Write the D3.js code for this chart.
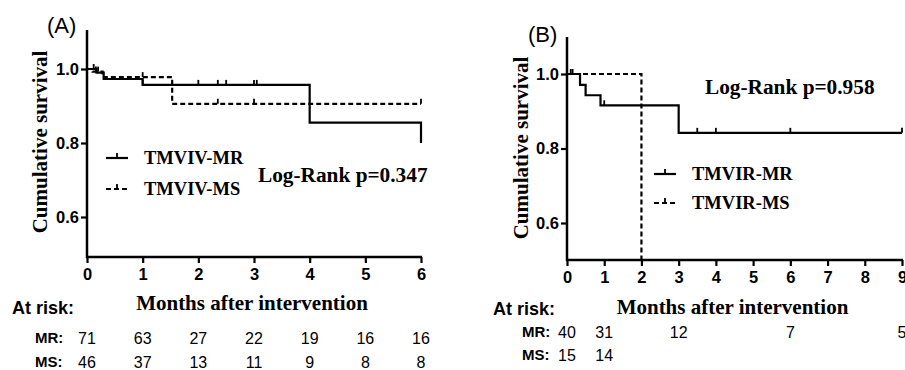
<!DOCTYPE html>
<html>
<head>
<meta charset="utf-8">
<script src="https://cdn.jsdelivr.net/npm/d3@7"></script>
<style>
  body { margin: 0; background: #fff; }
  svg text { fill: #000; }
</style>
</head>
<body>
<svg id="chart" width="905" height="370"></svg>
<script>
// ---- data ----
// panel A
const monthsA = [0, 1, 2, 3, 4, 5, 6];
const mrTimeA = [0, 0.17, 0.3, 1.0, 4.0, 6.0];
const mrSurvA = [1.0, 0.99, 0.973, 0.957, 0.855, 0.80];
const mrCensorA = [0.12, 1.0, 2.0, 2.35, 2.5, 3.0, 3.05];
const msTimeA = [0, 0.1, 0.28, 1.53, 6.0];
const msSurvA = [1.0, 0.993, 0.978, 0.906, 0.906];
const msCensorA = [0.16, 0.2, 1.0, 2.35, 3.0, 6.0];
const riskMonthsA = [0, 1, 2, 3, 4, 5, 6];
const riskMRA = [71, 63, 27, 22, 19, 16, 16];
const riskMSA = [46, 37, 13, 11, 9, 8, 8];

// panel B
const monthsB = [0, 1, 2, 3, 4, 5, 6, 7, 8, 9];
const mrTimeB = [0, 0.35, 0.5, 0.9, 3.0, 9.0];
const mrSurvB = [1.0, 0.971, 0.943, 0.916, 0.842, 0.842];
const mrCensorB = [0.1, 1.0, 3.5, 4.0, 6.0, 9.0];
const msTimeB = [0, 2.0];
const msSurvB = [1.0, 0.0];
const msCensorB = [0.15];
const riskMonthsMRB = [0, 1, 3, 6, 9];
const riskMRB = [40, 31, 12, 7, 5];
const riskMonthsMSB = [0, 1];
const riskMSB = [15, 14];

const yTicks = [0.6, 0.8, 1.0];

const svg = d3.select("#chart");
const serif = "'Liberation Serif', 'Times New Roman', serif";
const sans = "'Liberation Sans', Arial, sans-serif";

function drawPanel(p) {
  const x = d3.scaleLinear().domain([0, p.months[p.months.length - 1]]).range([p.left, p.right]);
  const y = d3.scaleLinear().domain([1.0, 0.6]).range([p.y1, p.y06]);
  const bottom = p.bottom, top = p.top;

  const g = svg.append("g");

  // clip so curves never go below the x axis
  const clipId = "clip" + p.id;
  svg.append("defs").append("clipPath").attr("id", clipId)
    .append("rect").attr("x", p.left - 5).attr("y", top)
    .attr("width", p.right - p.left + 10).attr("height", bottom - top);

  // y axis
  const yAxis = g.append("g").attr("transform", "translate(" + p.left + ",0)")
    .call(d3.axisLeft(y).tickValues(yTicks).tickFormat(d3.format(".1f")).tickSize(6).tickSizeOuter(0));
  yAxis.select(".domain").remove();
  yAxis.selectAll("line").attr("stroke", "#000").attr("stroke-width", 2.2);
  yAxis.selectAll("text").attr("font-family", sans).attr("font-weight", "bold")
    .attr("font-size", 16.5).attr("x", -8);
  g.append("line").attr("x1", p.left).attr("x2", p.left).attr("y1", top).attr("y2", bottom + 1)
    .attr("stroke", "#000").attr("stroke-width", 2.5);

  // x axis
  const xAxis = g.append("g").attr("transform", "translate(0," + bottom + ")")
    .call(d3.axisBottom(x).tickValues(p.months).tickFormat(d3.format("d")).tickSize(6).tickSizeOuter(0));
  xAxis.select(".domain").remove();
  xAxis.selectAll("line").attr("stroke", "#000").attr("stroke-width", 2.2);
  xAxis.selectAll("text").attr("font-family", sans).attr("font-weight", "bold")
    .attr("font-size", 16.5).attr("y", 11);
  g.append("line").attr("x1", p.left - 1).attr("x2", p.right + 1).attr("y1", bottom).attr("y2", bottom)
    .attr("stroke", "#000").attr("stroke-width", 2.5);

  // survival curves
  const line = d3.line().x(d => x(d[0])).y(d => y(d[1])).curve(d3.curveStepAfter);
  const curves = g.append("g").attr("clip-path", "url(#" + clipId + ")");
  function stepAt(times, surv, t) {
    let s = surv[0];
    for (let i = 0; i < times.length; i++) if (times[i] <= t) s = surv[i];
    return s;
  }
  [[p.mrTime, p.mrSurv, p.mrCensor, null], [p.msTime, p.msSurv, p.msCensor, "5,3"]].forEach(c => {
    const pts = c[0].map((t, i) => [t, c[1][i]]);
    curves.append("path").datum(pts).attr("d", line)
      .attr("fill", "none").attr("stroke", "#000").attr("stroke-width", 2.2)
      .attr("stroke-dasharray", c[3]);
    curves.selectAll(null).data(c[2]).enter().append("line")
      .attr("x1", d => x(d)).attr("x2", d => x(d))
      .attr("y1", d => y(stepAt(c[0], c[1], d)))
      .attr("y2", d => y(stepAt(c[0], c[1], d)) - 5)
      .attr("stroke", "#000").attr("stroke-width", 1.8);
  });

  // legend
  p.legend.forEach((name, i) => {
    const ly = p.legY + i * p.legGap;
    g.append("line").attr("x1", p.legX).attr("x2", p.legX + 22).attr("y1", ly).attr("y2", ly)
      .attr("stroke", "#000").attr("stroke-width", 2.2).attr("stroke-dasharray", i ? "5,3" : null);
    g.append("line").attr("x1", p.legX + 11).attr("x2", p.legX + 11).attr("y1", ly).attr("y2", ly - 5)
      .attr("stroke", "#000").attr("stroke-width", 1.8);
    g.append("text").attr("x", p.legX + 38).attr("y", ly).attr("dy", "0.35em")
      .attr("font-family", serif).attr("font-weight", "bold").attr("font-size", 18.5).text(name);
  });

  // log-rank
  g.append("text").attr("x", p.lrX).attr("y", p.lrY).attr("dy", "0.35em")
    .attr("font-family", serif).attr("font-weight", "bold").attr("font-size", 21.3).text(p.logRank);

  // panel letter
  g.append("text").attr("x", p.letterX).attr("y", p.letterY)
    .attr("font-family", sans).attr("font-size", 22).text(p.letter);

  // axis titles
  g.append("text").attr("transform", "translate(" + p.yLabX + "," + p.yLabY + ") rotate(-90)")
    .attr("text-anchor", "middle").attr("dy", "0.35em")
    .attr("font-family", serif).attr("font-weight", "bold").attr("font-size", 21)
    .text("Cumulative survival");
  g.append("text").attr("x", (p.left + p.right) / 2 - 2).attr("y", p.xLabY).attr("dy", "0.35em")
    .attr("text-anchor", "middle")
    .attr("font-family", serif).attr("font-weight", "bold").attr("font-size", 21)
    .text("Months after intervention");

  // at-risk table
  g.append("text").attr("x", p.atRiskX).attr("y", p.atRiskY).attr("dy", "0.35em")
    .attr("font-family", sans).attr("font-weight", "bold").attr("font-size", 18).text("At risk:");
  p.riskRows.forEach(r => {
    g.append("text").attr("x", p.rowLabX).attr("y", r.y).attr("dy", "0.35em")
      .attr("font-family", sans).attr("font-weight", "bold").attr("font-size", 15).text(r.label);
    g.selectAll(null).data(r.values).enter().append("text")
      .attr("x", (d, i) => x(r.months[i])).attr("y", r.y).attr("dy", "0.35em")
      .attr("text-anchor", "middle")
      .attr("font-family", sans).attr("font-size", 16).text(d => d);
  });
}

drawPanel({
  id: "A", months: monthsA, left: 87, right: 421, top: 30, bottom: 257, y1: 69, y06: 217,
  mrTime: mrTimeA, mrSurv: mrSurvA, mrCensor: mrCensorA,
  msTime: msTimeA, msSurv: msSurvA, msCensor: msCensorA,
  legend: ["TMVIV-MR", "TMVIV-MS"], legX: 106, legY: 158, legGap: 31,
  logRank: "Log-Rank p=0.347", lrX: 258, lrY: 175,
  letter: "(A)", letterX: 47, letterY: 33,
  yLabX: 40, yLabY: 142, xLabY: 303,
  atRiskX: 12, atRiskY: 308, rowLabX: 35,
  riskRows: [
    {label: "MR:", y: 338, months: riskMonthsA, values: riskMRA},
    {label: "MS:", y: 362, months: riskMonthsA, values: riskMSA}
  ]
});

drawPanel({
  id: "B", months: monthsB, left: 567, right: 902, top: 37, bottom: 260, y1: 74, y06: 223,
  mrTime: mrTimeB, mrSurv: mrSurvB, mrCensor: mrCensorB,
  msTime: msTimeB, msSurv: msSurvB, msCensor: msCensorB,
  legend: ["TMVIR-MR", "TMVIR-MS"], legX: 654, legY: 174, legGap: 29,
  logRank: "Log-Rank p=0.958", lrX: 705, lrY: 87,
  letter: "(B)", letterX: 528, letterY: 42,
  yLabX: 521, yLabY: 148, xLabY: 307,
  atRiskX: 493, atRiskY: 309, rowLabX: 522,
  riskRows: [
    {label: "MR:", y: 332, months: riskMonthsMRB, values: riskMRB},
    {label: "MS:", y: 355, months: riskMonthsMSB, values: riskMSB}
  ]
});
</script>
</body>
</html>
